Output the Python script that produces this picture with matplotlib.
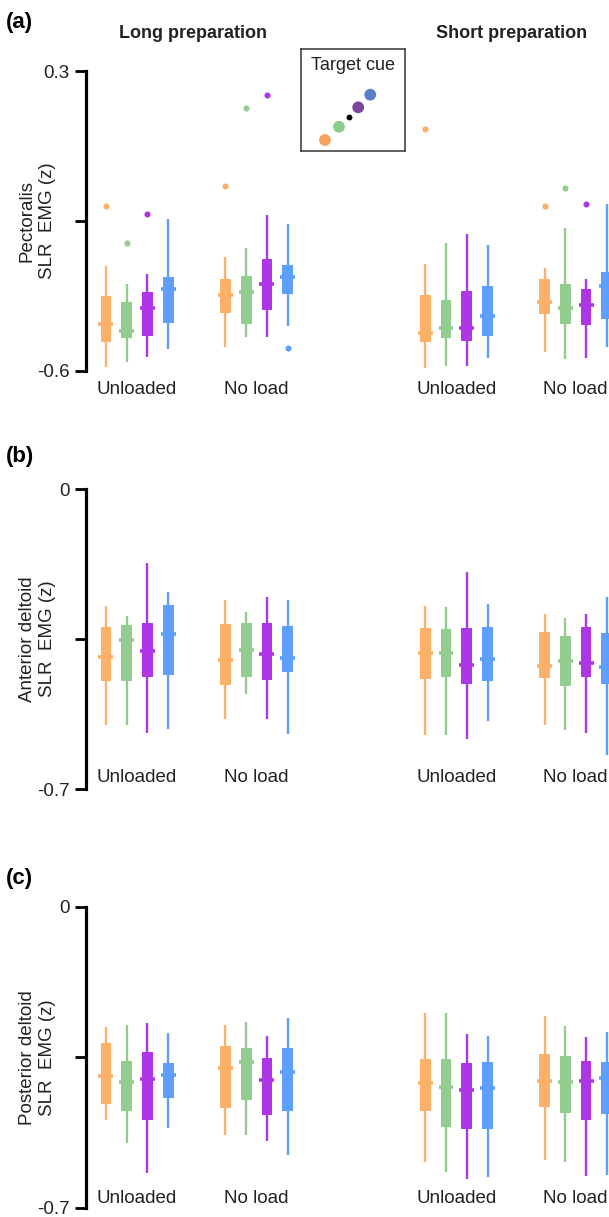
import numpy as np
import matplotlib
matplotlib.use("Agg")
import matplotlib.pyplot as plt

plt.rcParams['font.family'] = ['Liberation Sans', 'DejaVu Sans']
plt.rcParams['text.color'] = '#222222'

# --- data -----------------------------------------------------------------
# order: Long/Unloaded, Long/No load, Short/Unloaded, Short/No load
#        within each group: cue orange, green, purple, blue
group_labels = ["Unloaded", "No load", "Unloaded", "No load"]
prep_titles = ["Long preparation", "Short preparation"]
cue_colors = ["#FDB068", "#92CC8F", "#AE36E6", "#5E9EFC"]
legend_colors = ["#F7A35C", "#8DCB8E", "#7E479E", "#5A7FC9"]

pec_lo  = [-0.590, -0.574, -0.560, -0.536, -0.530, -0.500, -0.500, -0.467,
           -0.592, -0.587, -0.587, -0.563, -0.544, -0.566, -0.563, -0.530]
pec_q1  = [-0.515, -0.503, -0.497, -0.457, -0.428, -0.461, -0.419, -0.371,
           -0.515, -0.503, -0.512, -0.497, -0.431, -0.461, -0.464, -0.446]
pec_med = [-0.459, -0.480, -0.412, -0.355, -0.374, -0.364, -0.339, -0.320,
           -0.486, -0.472, -0.472, -0.435, -0.394, -0.412, -0.402, -0.345]
pec_q3  = [-0.377, -0.393, -0.363, -0.318, -0.324, -0.315, -0.264, -0.283,
           -0.372, -0.387, -0.360, -0.345, -0.324, -0.339, -0.354, -0.303]
pec_hi  = [-0.285, -0.339, -0.309, -0.144, -0.260, -0.231, -0.133, -0.160,
           -0.279, -0.216, -0.189, -0.223, -0.291, -0.171, -0.324, -0.099]
# (box index, value)
pec_out = [(0, -0.105), (1, -0.216), (2, -0.129), (4, -0.044), (5, 0.190),
           (6, 0.228), (7, -0.533), (8, 0.127), (12, -0.105), (13, -0.050),
           (14, -0.099)]

ad_lo  = [-0.550, -0.550, -0.569, -0.559, -0.537, -0.478, -0.536, -0.571,
          -0.573, -0.573, -0.583, -0.541, -0.550, -0.562, -0.569, -0.620]
ad_q1  = [-0.449, -0.449, -0.438, -0.433, -0.457, -0.438, -0.446, -0.428,
          -0.443, -0.438, -0.454, -0.447, -0.440, -0.459, -0.438, -0.454]
ad_med = [-0.393, -0.353, -0.378, -0.338, -0.399, -0.376, -0.385, -0.395,
          -0.383, -0.383, -0.411, -0.397, -0.414, -0.402, -0.407, -0.416]
ad_q3  = [-0.323, -0.317, -0.313, -0.271, -0.315, -0.313, -0.313, -0.320,
          -0.324, -0.327, -0.324, -0.322, -0.334, -0.343, -0.322, -0.336]
ad_hi  = [-0.273, -0.296, -0.173, -0.241, -0.259, -0.287, -0.251, -0.259,
          -0.273, -0.275, -0.194, -0.268, -0.292, -0.301, -0.292, -0.252]

pd_lo  = [-0.497, -0.549, -0.620, -0.515, -0.530, -0.530, -0.546, -0.578,
          -0.593, -0.616, -0.633, -0.628, -0.588, -0.593, -0.626, -0.623]
pd_q1  = [-0.458, -0.476, -0.497, -0.446, -0.467, -0.449, -0.484, -0.474,
          -0.474, -0.512, -0.516, -0.516, -0.465, -0.479, -0.495, -0.481]
pd_med = [-0.394, -0.407, -0.401, -0.391, -0.376, -0.361, -0.404, -0.385,
          -0.409, -0.420, -0.427, -0.422, -0.406, -0.408, -0.406, -0.399]
pd_q3  = [-0.317, -0.359, -0.338, -0.363, -0.324, -0.329, -0.352, -0.329,
          -0.354, -0.354, -0.363, -0.361, -0.343, -0.347, -0.359, -0.361]
pd_hi  = [-0.280, -0.274, -0.270, -0.294, -0.274, -0.268, -0.300, -0.259,
          -0.247, -0.247, -0.295, -0.300, -0.254, -0.277, -0.303, -0.291]

panels = [
    ("(a)", "Pectoralis\nSLR  EMG (z)", (-0.6, 0.3), ["-0.6", "", "0.3"],
     (pec_lo, pec_q1, pec_med, pec_q3, pec_hi), pec_out),
    ("(b)", "Anterior deltoid\nSLR  EMG (z)", (-0.7, 0.0), ["-0.7", "", "0"],
     (ad_lo, ad_q1, ad_med, ad_q3, ad_hi), []),
    ("(c)", "Posterior deltoid\nSLR  EMG (z)", (-0.7, 0.0), ["-0.7", "", "0"],
     (pd_lo, pd_q1, pd_med, pd_q3, pd_hi), []),
]

# --- layout ---------------------------------------------------------------
W, H = 609, 1217
fig = plt.figure(figsize=(W / 100, H / 100), dpi=100)

unit = 20.75                      # px per box slot
ax_left, ax_w = 86, 574           # axes run past the right edge (cropped)
group_x = [2.46, 8.22, 17.85, 23.6]
offsets = [-1.5, -0.5, 0.5, 1.5]
xpos = [g + o for g in group_x for o in offsets]
cols = cue_colors * 4

ax_tops = [71, 489, 906.7]
ax_h = [299.7, 300, 301]
label_yfrac = [-0.064, 0.04, 0.031]
panel_lab_y = [12, 446, 868]

for i, (tag, ylab, ylim, yticklabs, stats, outl) in enumerate(panels):
    top = ax_tops[i]
    ax = fig.add_axes([ax_left / W, 1 - (top + ax_h[i]) / H, ax_w / W, ax_h[i] / H])
    lo, q1, med, q3, hi = (np.array(s) for s in stats)
    ax.vlines(xpos, lo, hi, colors=cols, lw=1.7, zorder=1)
    ax.bar(xpos, q3 - q1, bottom=q1, width=0.52, color=cols, zorder=2)
    ax.hlines(med, np.array(xpos) - 0.36, np.array(xpos) + 0.36, colors=cols,
              lw=2.6, zorder=3)
    for k, v in outl:
        ax.plot(xpos[k], v, "o", color=cols[k], ms=4.4, mec="none", zorder=3)

    ax.set_xlim(0, ax_w / unit)
    ax.set_ylim(*ylim)
    for s in ("top", "right", "bottom"):
        ax.spines[s].set_visible(False)
    ax.spines["left"].set_linewidth(2.3)
    ax.spines["left"].set_bounds(*ylim)
    ax.set_yticks([ylim[0], (ylim[0] + ylim[1]) / 2, ylim[1]])
    ax.set_yticklabels(yticklabs)
    ax.tick_params(axis="y", length=8, width=2.0, labelsize=13.5, pad=4,
                   labelcolor="#222222")
    ax.set_xticks([])
    for g, lab in zip(group_x, group_labels):
        ax.text(g, label_yfrac[i], lab, transform=ax.get_xaxis_transform(),
                ha="center", va="center", fontsize=13.5, color="#222222")
    ax.patch.set_alpha(0)

    fig.text(37.5 / W, 1 - (top + ax_h[i] / 2) / H, ylab, rotation=90,
             ha="center", va="center", fontsize=13.5, linespacing=1.3)
    fig.text(6 / W, 1 - panel_lab_y[i] / H, tag, ha="left", va="top",
             fontsize=16, fontweight="bold", color="black")

fig.text(193 / W, 1 - 33 / H, prep_titles[0], ha="center", va="center",
         fontsize=13, fontweight="bold")
fig.text(512 / W, 1 - 33 / H, prep_titles[1], ha="center", va="center",
         fontsize=13, fontweight="bold")

# target-cue inset
lg = fig.add_axes([301 / W, 1 - 151 / H, 104 / W, 102 / H])
lg.set_xlim(0, 1)
lg.set_ylim(0, 1)
lg.set_xticks([])
lg.set_yticks([])
for s in lg.spines.values():
    s.set_color("#444444")
    s.set_linewidth(1.2)
cue_x = [0.23, 0.365, 0.55, 0.666]
cue_y = [0.108, 0.238, 0.428, 0.552]
lg.scatter(cue_x, cue_y, s=72, c=legend_colors, edgecolors="none")
lg.plot(0.46, 0.336, "o", color="black", ms=3.2)
lg.text(0.5, 0.84, "Target cue", ha="center", va="center", fontsize=13)

fig.savefig("out.png", dpi=100)
